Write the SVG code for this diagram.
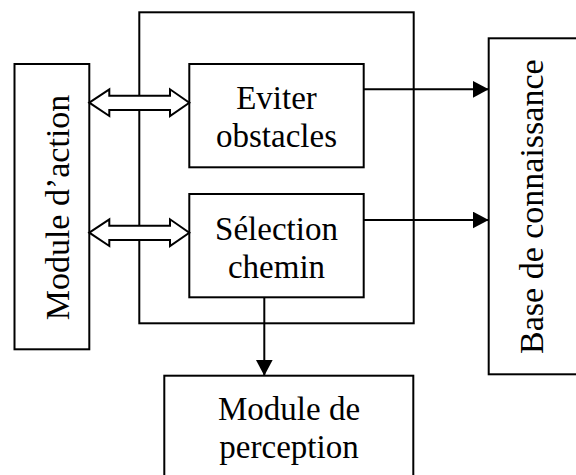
<svg xmlns="http://www.w3.org/2000/svg" width="576" height="475" viewBox="0 0 576 475">
<defs>
<style>
.box{fill:#fff;stroke:#000;stroke-width:2}
.frame{fill:none;stroke:#000;stroke-width:2}
.t{font-family:"Liberation Serif","Times New Roman",serif;font-size:33px;fill:#000;text-anchor:middle}
.tv{font-family:"Liberation Serif","Times New Roman",serif;font-size:34px;fill:#000;text-anchor:middle}
.ln{stroke:#000;stroke-width:2;fill:none}
.dbl{fill:#fff;stroke:#000;stroke-width:2;stroke-linejoin:miter}
</style>
<marker id="ah" markerWidth="16" markerHeight="17" refX="16" refY="8.5" orient="auto" markerUnits="userSpaceOnUse">
<path d="M0,0 L16,8.5 L0,17 Z" fill="#000"/>
</marker>
</defs>
<g id="outer">
<rect class="frame" x="139.3" y="12.3" width="274.4" height="311"/>
</g>
<g id="module-action">
<rect class="box" x="14.5" y="64" width="74.8" height="285.3"/>
<text class="tv" transform="translate(69,207.5) rotate(-90)">Module d’action</text>
</g>
<g id="base-connaissance">
<rect class="box" x="488.7" y="38.3" width="92" height="336"/>
<text class="tv" transform="translate(543,206.7) rotate(-90)">Base de connaissance</text>
</g>
<g id="eviter">
<rect class="box" x="189.3" y="64" width="174.4" height="103.3"/>
<text class="t" x="276.5" y="109">Eviter</text>
<text class="t" x="276.5" y="146.7">obstacles</text>
</g>
<g id="selection">
<rect class="box" x="189.3" y="194" width="174.4" height="103.3"/>
<text class="t" x="276.5" y="240">Sélection</text>
<text class="t" x="276.5" y="277.7">chemin</text>
</g>
<g id="perception">
<rect class="box" x="164.3" y="375.7" width="249" height="105"/>
<text class="t" x="289" y="420">Module de</text>
<text class="t" x="289" y="458">perception</text>
</g>
<g id="connectors">
<polygon class="dbl" points="89.3,102.7 109.3,89.3 109.3,95.7 170,95.7 170,89.3 189.3,102.7 170,116 170,110 109.3,110 109.3,116"/>
<polygon class="dbl" points="89.3,232.7 109.3,219.3 109.3,225.7 170,225.7 170,219.3 189.3,232.7 170,246 170,240 109.3,240 109.3,246"/>
<line class="ln" x1="363.7" y1="89.3" x2="488.7" y2="89.3" marker-end="url(#ah)"/>
<line class="ln" x1="363.7" y1="220" x2="488.7" y2="220" marker-end="url(#ah)"/>
<line class="ln" x1="264.3" y1="297.3" x2="264.3" y2="375.7" marker-end="url(#ah)"/>
</g>
</svg>
